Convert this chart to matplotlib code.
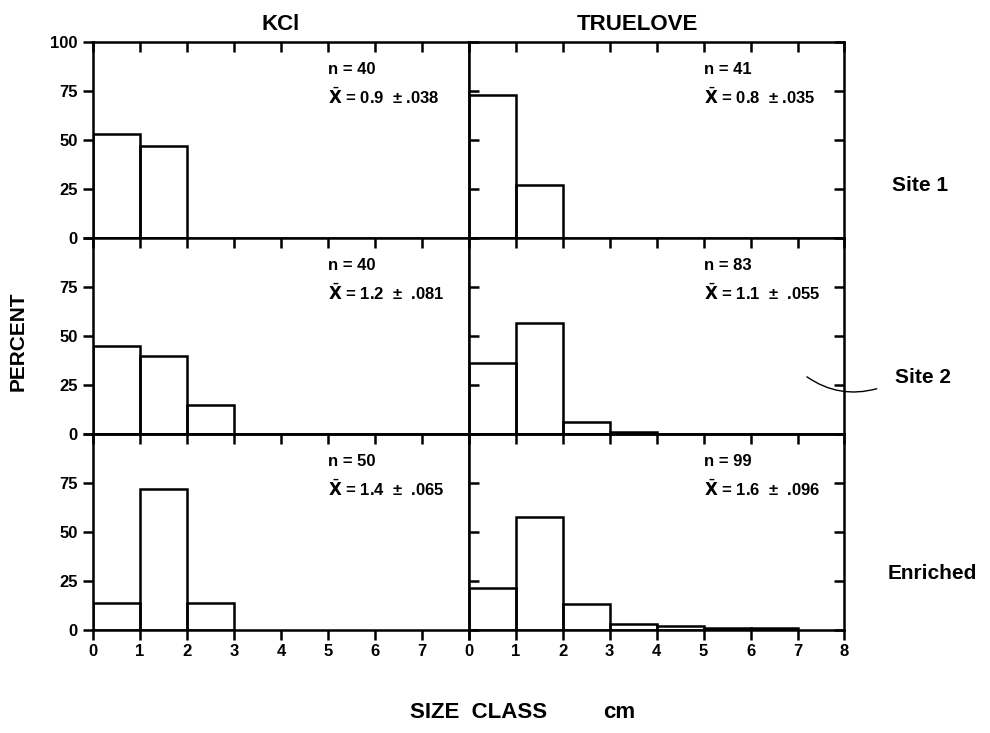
import matplotlib
matplotlib.use("Agg")
import matplotlib.pyplot as plt
import numpy as np

plt.rcParams['font.family'] = ['Liberation Sans', 'DejaVu Sans']

# Size classes (cm), bins start at these values
bin_starts = [0, 1, 2, 3, 4, 5, 6]

# Percent per size class
kcl_site1 = [53, 47, 0, 0, 0, 0, 0]
tru_site1 = [73, 27, 0, 0, 0, 0, 0]
kcl_site2 = [45, 40, 15, 0, 0, 0, 0]
tru_site2 = [36.1, 56.6, 6.0, 1.2, 0, 0, 0]
kcl_enr = [14, 72, 14, 0, 0, 0, 0]
tru_enr = [21.2, 57.6, 13.1, 3.0, 2.0, 1.0, 1.0]

col_titles = ["KCl", "TRUELOVE"]
row_labels = ["Site 1", "Site 2", "Enriched"]
n_labels = [["n = 40", "n = 41"], ["n = 40", "n = 83"], ["n = 50", "n = 99"]]
mean_labels = [["0.9  \u00b1 .038", "0.8  \u00b1 .035"],
               ["1.2  \u00b1  .081", "1.1  \u00b1  .055"],
               ["1.4  \u00b1  .065", "1.6  \u00b1  .096"]]

yticks = [0, 25, 50, 75, 100]
xticks = [0, 1, 2, 3, 4, 5, 6, 7, 8]

data = [[kcl_site1, tru_site1], [kcl_site2, tru_site2], [kcl_enr, tru_enr]]

fig = plt.figure(figsize=(9.9, 7.33), dpi=100)
gs = fig.add_gridspec(3, 2, left=0.094, right=0.853, top=0.9427, bottom=0.1405,
                      hspace=0, wspace=0)

lw = 1.8
tl = 7
for r in range(3):
    for c in range(2):
        ax = fig.add_subplot(gs[r, c])
        vals = data[r][c]
        starts = [s for s, v in zip(bin_starts, vals) if v > 0]
        hs = [v for v in vals if v > 0]
        ax.bar(starts, hs, width=1, align='edge', fill=False,
               edgecolor='black', linewidth=lw)
        ax.set_xlim(0, 8)
        ax.set_ylim(0, 100)
        for s in ax.spines.values():
            s.set_linewidth(lw)
        ax.set_xticks(xticks)
        ax.set_yticks(yticks)
        if r < 2:
            ax.tick_params(axis='x', top=True, bottom=False, direction='in',
                           length=tl, width=lw, labelbottom=False)
        else:
            ax.tick_params(axis='x', top=False, bottom=True, direction='out',
                           length=tl, width=lw, labelbottom=True, pad=3)
            labels = [str(t) for t in xticks]
            if c == 0:
                labels[-1] = ""
            ax.set_xticklabels(labels, fontsize=12, fontweight='bold')
            sec = ax.secondary_xaxis('top')
            sec.set_xticks(xticks)
            sec.set_xticklabels([])
            sec.tick_params(direction='in', length=tl, width=lw)
            sec.spines['top'].set_linewidth(lw)
        if c == 0:
            ax.tick_params(axis='y', left=True, right=False, direction='out',
                           length=tl, width=lw, labelleft=True, pad=4)
            ylabs = [str(t) for t in yticks]
            if r != 0:
                ylabs[-1] = ""
            ax.set_yticklabels(ylabs, fontsize=12, fontweight='bold')
        else:
            ax.tick_params(axis='y', left=True, right=True, direction='in',
                           length=tl, width=lw, labelleft=False)
        ax.text(0.625, 0.86, n_labels[r][c], transform=ax.transAxes,
                fontsize=12, fontweight='bold', ha='left', va='center')
        ax.text(0.625, 0.72, r"$\bar{\mathbf{X}}$ = " + mean_labels[r][c],
                transform=ax.transAxes, fontsize=12, fontweight='bold',
                ha='left', va='center')
        if r == 0:
            ax.text(0.5 if c == 0 else 0.45, 1.035, col_titles[c], transform=ax.transAxes,
                    fontsize=16, fontweight='bold', ha='center', va='bottom')
        if c == 1:
            ypos = [0.27, 0.29, 0.29][r]
            xpos = [1.2, 1.21, 1.234][r]
            ax.text(xpos, ypos, row_labels[r], transform=ax.transAxes,
                    fontsize=15, fontweight='bold', ha='center', va='center')
            if r == 1:
                ax.annotate("", xy=(0.894, 0.30), xytext=(1.093, 0.235),
                            xycoords='axes fraction', textcoords='axes fraction',
                            arrowprops=dict(arrowstyle='-', color='black', lw=1.0,
                                            connectionstyle='arc3,rad=-0.25'),
                            annotation_clip=False)

fig.text(0.018, 0.535, "PERCENT", rotation=90, fontsize=15, fontweight='bold',
         ha='center', va='center')
fig.text(0.483, 0.028, "SIZE  CLASS", fontsize=16, fontweight='bold',
         ha='center', va='center')
fig.text(0.625, 0.028, "cm", fontsize=16, fontweight='bold',
         ha='center', va='center')

fig.savefig("out.png", dpi=100)
